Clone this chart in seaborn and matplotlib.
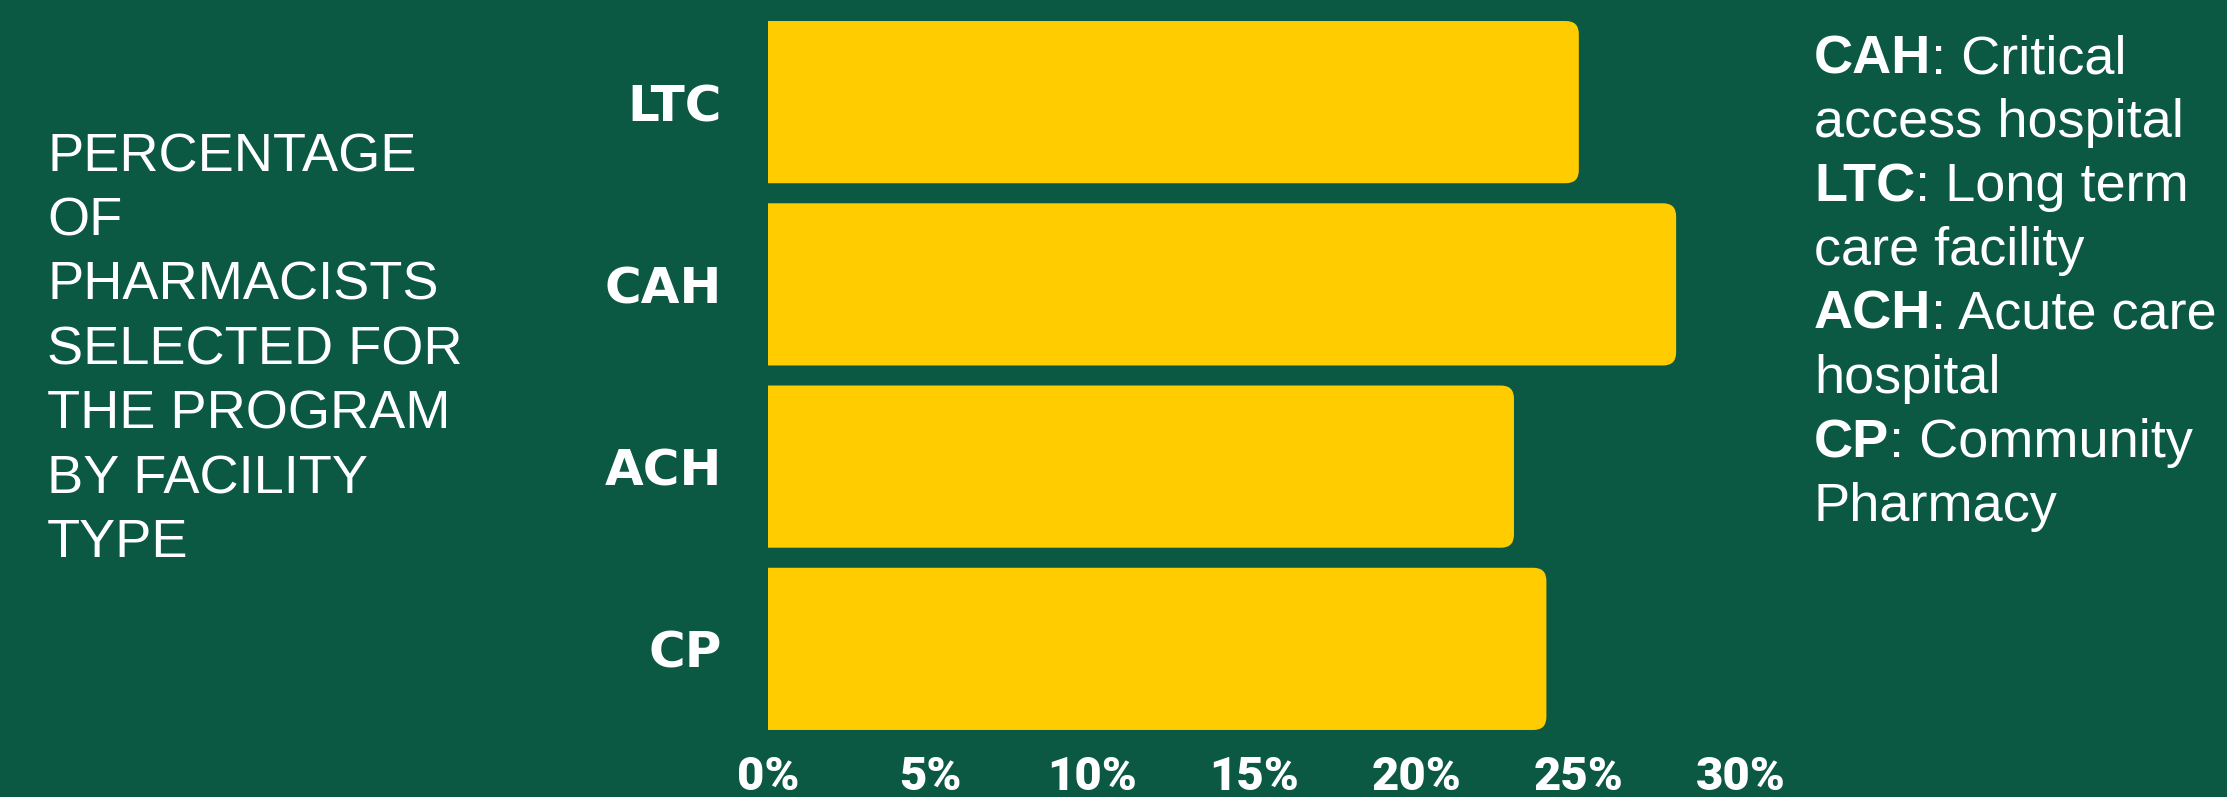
import matplotlib
matplotlib.use("Agg")
import matplotlib.pyplot as plt
from matplotlib.patches import FancyBboxPatch
from matplotlib.text import Annotation
import seaborn as sns
import pandas as pd

# ---- data ----
categories = ["LTC", "CAH", "ACH", "CP"]
percentages = [25, 28, 23, 24]
x_ticks = [0, 5, 10, 15, 20, 25, 30]
x_tick_labels = ["0%", "5%", "10%", "15%", "20%", "25%", "30%"]
left_title_lines = ["PERCENTAGE", "OF", "PHARMACISTS", "SELECTED FOR",
                    "THE PROGRAM", "BY FACILITY", "TYPE"]
legend_lines = [("CAH", ": Critical"), ("", "access hospital"),
                ("LTC", ": Long term"), ("", "care facility"),
                ("ACH", ": Acute care"), ("", "hospital"),
                ("CP", ": Community"), ("", "Pharmacy")]

BG = "#0B5843"
BAR = "#FFCC00"

sns.set_theme(style="white")
plt.rcParams["font.family"] = ["Liberation Sans", "DejaVu Sans"]

W, H = 2227, 797
fig = plt.figure(figsize=(W / 100, H / 100), dpi=100, facecolor=BG)
ax_left, ax_right, ax_top, ax_bot = 768, 1741, 11, 740
ax = fig.add_axes([ax_left / W, 1 - ax_bot / H, (ax_right - ax_left) / W,
                   (ax_bot - ax_top) / H])
ax.set_facecolor(BG)

df = pd.DataFrame({"cat": categories, "pct": percentages})
sns.barplot(data=df, x="pct", y="cat", orient="h", color=BAR, width=0.89,
            saturation=1, ax=ax, linewidth=0)

ax.set_xlim(0, 30)
ax.set_ylim(len(categories) - 0.5, -0.5)

# replace each bar by a single rounded path; the left rounding falls outside
# the axes and is clipped, leaving square left corners
r_px = 13
r_x = r_px * 30 / (ax_right - ax_left)
r_y = r_px * len(categories) / (ax_bot - ax_top)
for p in list(ax.patches):
    x, y, w, h = p.get_x(), p.get_y(), p.get_width(), p.get_height()
    p.remove()
    rb = FancyBboxPatch((x - 2 * r_x, y), w + 2 * r_x, h,
                        boxstyle=f"round,pad=0,rounding_size={r_x}",
                        mutation_aspect=r_y / r_x, facecolor=BAR,
                        edgecolor="none", linewidth=0)
    ax.add_patch(rb)

ax.set_xticks(x_ticks)
ax.set_xticklabels(x_tick_labels, fontfamily="Roboto", fontweight="heavy",
                   fontsize=34, color="white")
for lab in ax.get_yticklabels():
    lab.set_fontfamily("DejaVu Sans")
    lab.set_fontweight("bold")
    lab.set_fontsize(36)
    lab.set_color("white")
ax.tick_params(axis="x", length=0, pad=11)
ax.tick_params(axis="y", length=0, pad=33)
ax.set_xlabel("")
ax.set_ylabel("")
for s in ax.spines.values():
    s.set_visible(False)
ax.grid(False)

# left title
pitch = 64.4
fs = 39
for i, line in enumerate(left_title_lines):
    yb = 171 + i * pitch
    fig.text(47 / W, 1 - yb / H, line, color="white", fontsize=fs,
             va="baseline", ha="left")

# right legend text (bold abbreviation + regular description)
for i, (b, r) in enumerate(legend_lines):
    yb = 73 + i * 64.0
    x0 = 1814 / W
    if b:
        t = fig.text(x0, 1 - yb / H, b, color="white", fontsize=fs,
                     fontweight="bold", va="baseline", ha="left")
        fig.add_artist(Annotation(r, xy=(1, 0), xycoords=t, va="bottom",
                                  ha="left", color="white", fontsize=fs))
    else:
        fig.text(x0, 1 - yb / H, r, color="white", fontsize=fs,
                 va="baseline", ha="left")

fig.savefig("out.png", dpi=100, facecolor=BG)
